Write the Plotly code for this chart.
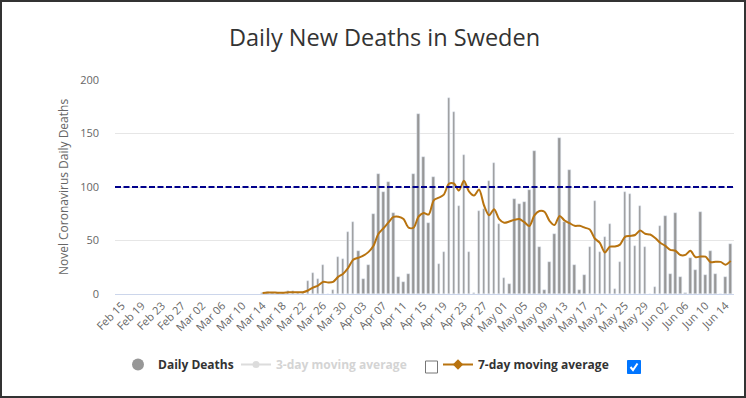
import plotly.graph_objects as go
import pandas as pd

# ---- data ----
start_date = "2020-02-15"
# daily deaths from Feb 15 to Jun 15 2020 (no reports before Mar 14)
daily_deaths = [None] * 28 + [
    1, 2, 1, 1, 1, 3, 3, 1, 2, 12,
    20, 14, 27, 0, 4, 35, 33, 58, 67, 40,
    14, 27, 75, 112, 95, 105, 76, 16, 11, 19,
    112, 168, 128, 66, 109, 28, 39, 183, 170, 82,
    130, 39, 1, 78, 79, 106, 122, 65, 15, 9,
    89, 84, 86, 97, 134, 44, 4, 30, 56, 146,
    67, 116, 27, 4, 18, 44, 87, 39, 53, 65,
    5, 30, 95, 93, 45, 82, 44, 0, 7, 64,
    73, 19, 76, 16, 1, 34, 22, 77, 18, 40,
    19, 0, 16, 47,
]
threshold = 100
y_ticks = [0, 50, 100, 150, 200]

dates = pd.date_range(start_date, periods=len(daily_deaths), freq="D")
series = pd.Series(daily_deaths, dtype=float)
ma3 = series.rolling(3, min_periods=1).mean()
ma7 = series.rolling(7, min_periods=1).mean()


def clean(s):
    return [None if pd.isna(v) else float(v) for v in s]


DAY = 86400000
BAR_COLOR = "#979797"
LINE_COLOR = "#b8730f"
FONT = "Open Sans, Arial, sans-serif"

fig = go.Figure()

# bars
fig.add_trace(go.Bar(
    x=dates, y=clean(series), marker_color=BAR_COLOR, width=0.5 * DAY,
    name="Daily Deaths", showlegend=False, legendgroup="daily",
))
# 3-day average (hidden, as in reference)
fig.add_trace(go.Scatter(
    x=dates, y=clean(ma3), mode="lines", line=dict(color="#aaaaaa", width=2, shape="spline"),
    name="3-day moving average", showlegend=False, visible="legendonly", legendgroup="ma3",
))
# 7-day average
fig.add_trace(go.Scatter(
    x=dates, y=clean(ma7), mode="lines",
    line=dict(color=LINE_COLOR, width=2, shape="spline", smoothing=0.8),
    name="7-day moving average", showlegend=False, legendgroup="ma7",
))

# legend proxies, each in its own legend so it can be placed like the reference
fig.add_trace(go.Scatter(
    x=[None], y=[None], mode="markers", marker=dict(symbol="circle", size=12, color=BAR_COLOR),
    name="Daily Deaths", legendgroup="daily", legend="legend",
))
fig.add_trace(go.Scatter(
    x=[None], y=[None], mode="lines+markers",
    line=dict(color="#bbbbbb", width=2), marker=dict(symbol="circle", size=7, color="#bbbbbb"),
    name='<span style="color:#aaaaaa">3-day moving average</span>',
    legendgroup="ma3", visible="legendonly", legend="legend2",
))
fig.add_trace(go.Scatter(
    x=[None], y=[None], mode="lines+markers",
    line=dict(color=LINE_COLOR, width=2), marker=dict(symbol="diamond", size=8, color=LINE_COLOR),
    name="7-day moving average", legendgroup="ma7", legend="legend3",
))

# plot area in pixels
PL, PR, PT, PB = 115.0, 734.0, 80.0, 294.0
PW, PH = PR - PL, PB - PT
X0_PX, DAY_PX = 121.7, 5.033  # pixel of first day, pixels per day


def px(x):
    return (x - PL) / PW


def py(y):
    return (PB - y) / PH


shapes = [
    dict(type="line", xref="paper", yref="y", x0=0, x1=1, y0=threshold, y1=threshold,
         line=dict(color="#00008b", width=2, dash="6px,2.5px")),
    # unchecked checkbox
    dict(type="rect", xref="paper", yref="paper", x0=px(425.5), x1=px(437.5), y0=py(373), y1=py(361),
         line=dict(color="#767676", width=1), fillcolor="white"),
    # checked checkbox
    dict(type="rect", xref="paper", yref="paper", x0=px(627.5), x1=px(640.5), y0=py(373.5), y1=py(360.5),
         line=dict(color="#0075ff", width=1), fillcolor="#0075ff"),
    dict(type="path", xref="paper", yref="paper",
         path=f"M {px(630.5)} {py(367)} L {px(633)} {py(370)} L {px(637.5)} {py(363.5)}",
         line=dict(color="white", width=2)),
    # outer frame
    dict(type="rect", xref="paper", yref="paper", x0=px(1), x1=px(745), y0=py(397), y1=py(1),
         line=dict(color="#333333", width=2), fillcolor="rgba(0,0,0,0)", layer="above"),
]

legend_common = dict(
    orientation="h", xanchor="left", y=py(364.5), yanchor="middle",
    font=dict(size=12, color="#333333", family=FONT, weight="bold"),
    bgcolor="rgba(0,0,0,0)", itemclick=False, itemdoubleclick=False, borderwidth=0,
)

fig.update_layout(
    width=746, height=398,
    margin=dict(l=PL, r=746 - PR, t=PT, b=398 - PB, pad=0),
    paper_bgcolor="white", plot_bgcolor="white",
    font=dict(family=FONT, color="#666666", size=11),
    title=dict(text="Daily New Deaths in Sweden", x=384.5 / 746, xref="container", xanchor="center",
               y=1 - 38 / 398, yanchor="middle", yref="container",
               font=dict(size=23.5, color="#333333", family=FONT)),
    showlegend=True,
    legend=dict(x=px(118), **legend_common),
    legend2=dict(x=px(236), **legend_common),
    legend3=dict(x=px(438), **legend_common),
    bargap=0,
    shapes=shapes,
)

fig.update_xaxes(
    type="date",
    range=[dates[0] + pd.Timedelta(days=(PL - X0_PX) / DAY_PX),
           dates[0] + pd.Timedelta(days=(PR - X0_PX) / DAY_PX)],
    tick0=dates[0], dtick=4 * DAY, tickformat="%b %d", tickangle=-45,
    tickfont=dict(size=11, color="#666666"),
    showgrid=False, showline=True, linecolor="#ccd6eb", linewidth=1,
    ticks="", zeroline=False,
)
fig.update_yaxes(
    range=[0, 200], tickvals=y_ticks, showgrid=True, gridcolor="#e6e6e6", gridwidth=1,
    zeroline=False, showline=False, ticks="",
    tickfont=dict(size=11, color="#666666"), ticklabelstandoff=15,
    title=dict(text="Novel Coronavirus Daily Deaths", font=dict(size=12, color="#666666"), standoff=8),
)

fig.write_html(
    "out.html",
    config={"displayModeBar": False},
    post_script="document.body.style.margin='0';document.body.style.overflow='hidden';",
)
